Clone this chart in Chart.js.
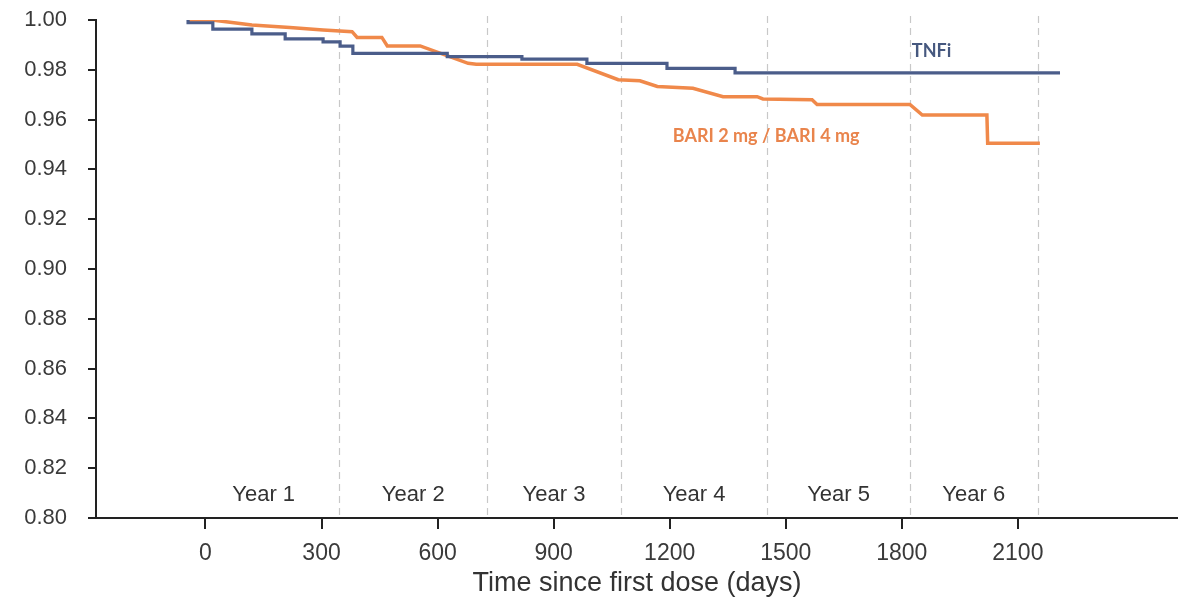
<!DOCTYPE html>
<html>
<head>
<meta charset="utf-8">
<script src="https://cdn.jsdelivr.net/npm/chart.js@4.4.1/dist/chart.umd.min.js"></script>
<style>
  body { margin: 0; background: #fff; }
  canvas { display: block; }
</style>
</head>
<body>
<canvas id="km-chart" width="1178" height="602"></canvas>
<script>
// Kaplan-Meier curves (days since first dose, survival)
var tnfiDays = [-45, 19, 120, 206, 304, 348, 381, 625, 818, 986, 1193, 1369, 1545, 2209];
var tnfiSurv = [1.000, 0.9989, 0.9963, 0.9944, 0.9924, 0.9912, 0.9895, 0.9866, 0.9853, 0.9843, 0.9826, 0.9806, 0.9788, 0.9788];

var bariDays = [-45, 17, 120, 218, 304, 379, 392, 456, 470, 555, 679, 700, 961, 1067, 1123, 1168, 1260, 1338, 1426, 1441, 1568, 1581, 1821, 1853, 2020, 2022, 2157];
var bariSurv = [1.000, 1.000, 0.998, 0.997, 0.996, 0.9953, 0.993, 0.993, 0.9896, 0.9896, 0.9826, 0.9822, 0.9822, 0.976, 0.9756, 0.9733, 0.9726, 0.9692, 0.9692, 0.9683, 0.968, 0.9661, 0.9661, 0.9618, 0.9618, 0.9505, 0.9505];

var xTicks = [0, 300, 600, 900, 1200, 1500, 1800, 2100];
var yearBounds = [-45, 346, 728, 1074, 1452, 1821, 2151];
var yearLabels = ["Year 1", "Year 2", "Year 3", "Year 4", "Year 5", "Year 6"];

var blue = "#4b5d8a";
var orange = "#f0894a";

var toPoints = function (xs, ys) {
    return xs.map((x, i) => ({x: x, y: ys[i]}));
};

// dashed year separators and the "Year n" texts
var yearPlugin = {
    id: "years",
    beforeDatasetsDraw: function (chart) {
        var ctx = chart.ctx, x = chart.scales.x, area = chart.chartArea;
        ctx.save();
        ctx.strokeStyle = "#c8c8c8";
        ctx.lineWidth = 1.2;
        ctx.setLineDash([7, 5]);
        yearBounds.slice(1).forEach(d => {
            var px = Math.round(x.getPixelForValue(d)) + 0.5;
            ctx.beginPath();
            ctx.moveTo(px, area.top - 4);
            ctx.lineTo(px, area.bottom);
            ctx.stroke();
        });
        ctx.setLineDash([]);
        ctx.fillStyle = "#333";
        ctx.font = "22px 'Liberation Sans', Arial, sans-serif";
        ctx.textAlign = "center";
        ctx.textBaseline = "middle";
        yearLabels.forEach((t, i) => {
            var mid = (yearBounds[i] + yearBounds[i + 1]) / 2;
            ctx.fillText(t, x.getPixelForValue(mid), area.bottom - 23);
        });
        ctx.restore();
    },
    afterDatasetsDraw: function (chart) {
        var ctx = chart.ctx, x = chart.scales.x, y = chart.scales.y;
        ctx.save();
        ctx.font = "bold 18px Lato, 'Open Sans', sans-serif";
        ctx.textAlign = "left";
        ctx.textBaseline = "middle";
        ctx.fillStyle = "#46587f";
        ctx.fillText("TNFi", x.getPixelForValue(1826), y.getPixelForValue(0.9875));
        ctx.fillStyle = "#e9844c";
        ctx.fillText("BARI 2 mg / BARI 4 mg", x.getPixelForValue(1208), y.getPixelForValue(0.9534));
        ctx.restore();
    }
};

var chart = new Chart(document.getElementById("km-chart"), {
    type: "line",
    data: {
        datasets: [{
            label: "TNFi",
            data: toPoints(tnfiDays, tnfiSurv),
            borderColor: blue,
            borderWidth: 3.2,
            stepped: "after",
            pointRadius: 0
        }, {
            label: "BARI 2 mg / BARI 4 mg",
            data: toPoints(bariDays, bariSurv),
            borderColor: orange,
            borderWidth: 3.5,
            pointRadius: 0,
            tension: 0
        }]
    },
    options: {
        responsive: false,
        animation: false,
        layout: {padding: {top: 20, right: 0, left: 0, bottom: 0}},
        plugins: {legend: {display: false}, tooltip: {enabled: false}},
        scales: {
            x: {
                type: "linear",
                min: -283,
                max: 2514,
                afterBuildTicks: axis => { axis.ticks = xTicks.map(v => ({value: v})); },
                afterFit: scale => { scale.height = 84; },
                grid: {drawOnChartArea: false, color: "#222", lineWidth: 2, tickLength: 11},
                border: {color: "#222", width: 2},
                ticks: {
                    color: "#3a3a3a",
                    font: {family: "'Liberation Sans', Arial", size: 23},
                    padding: 11,
                    maxRotation: 0,
                    callback: v => String(v)
                },
                title: {
                    display: true,
                    text: "Time since first dose (days)",
                    color: "#333",
                    font: {family: "'Liberation Sans', Arial", size: 27, lineHeight: 1},
                    padding: {top: 0, bottom: 5}
                }
            },
            y: {
                min: 0.80,
                max: 1.00,
                afterFit: scale => {
                    scale.width = 96;
                    scale.paddingTop = 0;
                    scale.paddingBottom = 0;
                },
                grid: {drawOnChartArea: false, color: "#222", lineWidth: 2, tickLength: 8},
                border: {color: "#222", width: 2},
                ticks: {
                    stepSize: 0.02,
                    color: "#3a3a3a",
                    font: {family: "'Liberation Sans', Arial", size: 22},
                    padding: 21,
                    callback: v => v.toFixed(2)
                }
            }
        }
    },
    plugins: [yearPlugin]
});
</script>
</body>
</html>
